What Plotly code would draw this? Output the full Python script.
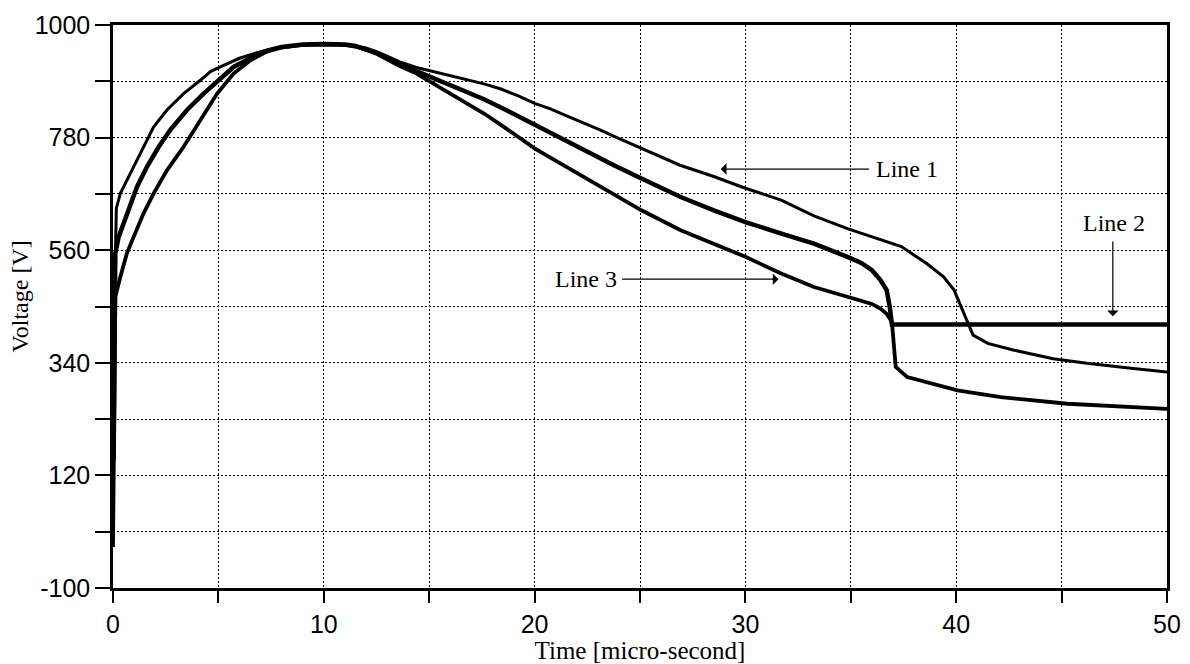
import plotly.graph_objects as go

# ---- data ----
line1_x = [0.05, 0.10, 0.16, 0.35, 0.58, 0.98, 1.45, 1.93, 2.56, 3.35, 4.14, 4.62, 5.09,
           6.0, 7.0, 8.0, 9.0, 10.0, 11.0, 11.5, 12.0, 12.5, 13.0, 13.6, 14.4, 15.0, 16.0,
           16.8, 17.6, 18.4, 19.2, 20.0, 20.75, 21.55, 22.2, 23.1, 23.8, 25.07, 26.9, 28.5,
           30.0, 31.7, 33.25, 34.84, 36.4, 36.7, 37.4, 38.6, 39.4, 39.9, 40.2, 40.5, 40.8,
           41.5, 42.7, 44.6, 46.2, 48.4, 50.0]
line1_y = [430, 560, 642, 671, 690, 723, 762, 801, 834, 866, 892, 909, 918,
           935, 948, 957, 961, 962, 961, 959, 955, 948, 939, 928, 917, 911, 902,
           894, 885, 875, 862, 847, 836, 822, 811, 795, 782, 759, 726, 704,
           681, 658, 627, 602, 580, 576, 567, 534, 508, 482, 453, 423, 394,
           378, 365, 348, 339, 329, 322]

line2_x = [0.03, 0.08, 0.11, 0.27, 0.50, 0.82, 1.14, 1.61, 2.17, 2.72, 3.51, 4.30, 5.09,
           5.72, 6.5, 7.3, 8.0, 9.0, 10.0, 11.0, 11.5, 12.0, 12.5, 13.0, 13.6, 14.4, 15.0,
           16.0, 16.8, 17.6, 18.4, 19.2, 20.0, 20.75, 21.55, 22.2, 23.0, 23.76, 25.07, 26.93,
           28.5, 30.0, 31.67, 33.25, 34.84, 35.5, 36.0, 36.4, 36.7, 36.85, 36.95, 40.0, 45.0,
           50.0]
line2_y = [150, 450, 554, 586, 612, 648, 684, 723, 762, 795, 834, 866, 896,
           918, 935, 950, 957, 962, 963, 962, 959, 953, 945, 935, 922, 910, 900,
           883, 869, 855, 839, 822, 805, 789, 772, 758, 742, 726, 700, 664,
           638, 615, 593, 573, 547, 535, 521, 502, 482, 449, 415, 415, 415,
           415]

line3_x = [0.0, 0.05, 0.09, 0.11, 0.35, 0.66, 0.98, 1.45, 1.93, 2.56, 3.35, 4.14, 4.94,
           5.72, 6.52, 7.3, 8.0, 9.0, 10.0, 11.0, 11.5, 12.0, 12.5, 13.0, 13.6, 14.4, 15.06,
           16.0, 16.8, 17.6, 18.4, 19.2, 20.0, 20.75, 21.55, 22.2, 23.76, 25.07, 26.93, 28.5,
           30.0, 31.67, 33.25, 34.84, 35.5, 36.0, 36.4, 36.7, 36.95, 37.05, 37.13, 37.68,
           38.95, 40.06, 42.11, 45.28, 50.0]
line3_y = [-20, 150, 400, 469, 508, 554, 586, 632, 671, 716, 762, 814, 866,
           905, 931, 948, 956, 961, 962, 961, 958, 952, 944, 933, 920, 905, 889,
           866, 847, 827, 805, 782, 759, 741, 722, 707, 671, 638, 599, 573,
           547, 515, 488, 469, 462, 455, 446, 436, 420, 380, 332, 312,
           299, 286, 273, 260, 250]

x_tick_vals = [0, 5, 10, 15, 20, 25, 30, 35, 40, 45, 50]
x_tick_text = ["0", "", "10", "", "20", "", "30", "", "40", "", "50"]
y_tick_vals = [-100, 10, 120, 230, 340, 450, 560, 670, 780, 890, 1000]
y_tick_text = ["-100", "", "120", "", "340", "", "560", "", "780", "", "1000"]

fig = go.Figure()
fig.add_trace(go.Scatter(x=line1_x, y=line1_y, mode="lines", name="Line 1",
                         line=dict(color="black", width=3)))
fig.add_trace(go.Scatter(x=line2_x, y=line2_y, mode="lines", name="Line 2",
                         line=dict(color="black", width=4.5)))
fig.add_trace(go.Scatter(x=line3_x, y=line3_y, mode="lines", name="Line 3",
                         line=dict(color="black", width=3.8)))

serif = "Liberation Serif, Times New Roman, serif"
sans = "Liberation Sans, Arial, sans-serif"

# annotations: labels and arrows
arrow_kw = dict(xref="x", yref="y", axref="x", ayref="y", text="", showarrow=True,
                arrowhead=1, arrowsize=1.6, arrowwidth=1.2, arrowcolor="black")
fig.add_annotation(x=28.83, y=718.5, ax=35.94, ay=718.5, **arrow_kw)
fig.add_annotation(x=31.57, y=503.4, ax=24.08, ay=503.4, **arrow_kw)
fig.add_annotation(x=47.43, y=431, ax=47.43, ay=580, **arrow_kw)
txt_kw = dict(xref="x", yref="y", showarrow=False, font=dict(family=serif, size=24, color="black"))
fig.add_annotation(x=37.65, y=718.5, text="Line 1", **txt_kw)
fig.add_annotation(x=22.42, y=503.4, text="Line 3", **txt_kw)
fig.add_annotation(x=47.47, y=612.9, text="Line 2", **txt_kw)

# y-axis title placed as a rotated annotation so it can sit close to the page edge
fig.add_annotation(xref="paper", yref="paper", x=0, y=0.5, xshift=-94, yshift=10,
                   xanchor="center", yanchor="middle", textangle=-90, showarrow=False,
                   borderpad=0, text="Voltage [V]",
                   font=dict(family=serif, size=24, color="black"))

# page body adds an 8px offset; size the figure so the plot area lands where the reference has it
fig.update_layout(
    width=1182, height=656,
    margin=dict(l=105, r=23, t=17, b=76),
    paper_bgcolor="white", plot_bgcolor="white",
    showlegend=False,
    font=dict(family=sans, size=25, color="black"),
)
fig.update_xaxes(
    range=[0, 50], tickvals=x_tick_vals, ticktext=x_tick_text,
    ticks="outside", ticklen=12, tickwidth=2, tickcolor="black",
    showline=True, linecolor="black", linewidth=2.5, mirror=True,
    showgrid=True, gridcolor="black", gridwidth=1, griddash="2px,2px",
    zeroline=False, tickfont=dict(family=sans, size=25), automargin=False,
    title=dict(text="Time [micro-second]", font=dict(family=serif, size=25), standoff=6),
)
fig.update_yaxes(
    range=[-100, 1000], tickvals=y_tick_vals, ticktext=y_tick_text,
    ticks="outside", ticklen=15, tickwidth=2, tickcolor="black",
    showline=True, linecolor="black", linewidth=2.5, mirror=True,
    showgrid=True, gridcolor="black", gridwidth=1, griddash="2px,2px",
    zeroline=False, tickfont=dict(family=sans, size=25), automargin=False,
)

fig.write_html("out.html")
